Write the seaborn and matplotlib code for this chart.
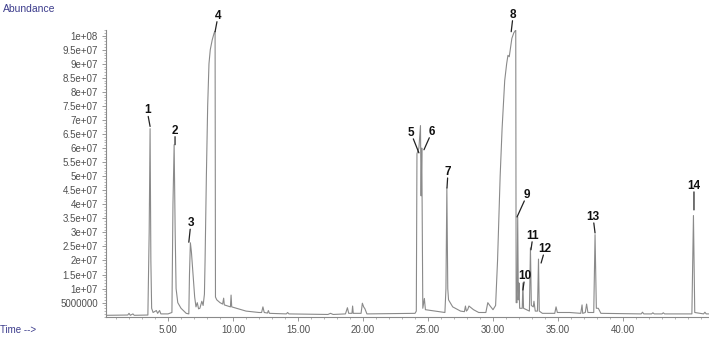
import numpy as np
import pandas as pd
import seaborn as sns
import matplotlib.pyplot as plt
from matplotlib.ticker import MultipleLocator

# chromatogram trace: retention time (min), abundance (x1e7)
time_min = [
    0.3, 1.9, 2.0, 2.1, 2.3, 2.4, 3.45, 3.55, 3.62, 3.68, 3.74, 3.85, 4.1, 4.2, 4.35, 4.45,
    5.0, 5.3, 5.38, 5.47, 5.55, 5.62, 5.75, 6.0, 6.4, 6.6, 6.65, 6.72, 6.8, 6.92, 7.05,
    7.15, 7.25, 7.35, 7.45, 7.6, 7.7, 7.8, 7.85, 7.95, 8.05, 8.15, 8.25, 8.4, 8.55, 8.62,
    8.65, 8.75, 9.0, 9.2, 9.28, 9.33, 9.8, 9.85, 9.9, 10.5, 11.0, 12.0, 12.2, 12.3, 12.4,
    12.65, 12.72, 12.8, 14.1, 14.2, 14.3, 17.3, 17.5, 17.7, 18.65, 18.8, 18.9, 19.15, 19.2,
    19.25, 19.85, 19.95, 20.05, 20.15, 20.3, 24.0, 24.1, 24.15, 24.3, 24.42, 24.47, 24.52,
    24.6, 24.72, 24.8, 26.3, 26.38, 26.45, 26.52, 26.58, 26.9, 27.5, 27.8, 27.88, 27.95,
    28.05, 28.15, 28.5, 28.9, 29.45, 29.6, 29.75, 30.0, 30.2, 30.35, 30.55, 30.7, 30.9,
    31.05, 31.15, 31.25, 31.45, 31.6, 31.75, 31.78, 31.85, 31.9, 31.95, 32.0, 32.05, 32.25,
    32.3, 32.35, 32.8, 32.88, 32.95, 33.1, 33.15, 33.25, 33.42, 33.5, 33.56, 33.8, 34.75,
    34.85, 34.95, 35.9, 36.75, 36.85, 36.9, 37.1, 37.2, 37.3, 37.75, 37.85, 37.95, 38.1,
    38.3, 41.4, 41.5, 41.6, 42.2, 42.3, 42.4, 43.0, 43.1, 43.2, 45.3, 45.42, 45.52, 46.2,
    46.3, 46.4, 46.6,
]
abund_e7 = [
    0.05, 0.06, 0.12, 0.05, 0.10, 0.05, 0.06, 3.0, 6.69, 2.0, 0.3, 0.15, 0.22, 0.12, 0.22, 0.1,
    0.1, 0.15, 4.0, 6.12, 3.0, 1.0, 0.5, 0.3, 0.12, 0.1, 1.5, 2.63, 2.3, 1.55, 0.7,
    0.35, 0.5, 0.28, 0.3, 0.55, 0.4, 0.8, 2.0, 5.0, 7.5, 9.0, 9.5, 9.85, 10.1, 10.15,
    0.7, 0.6, 0.5, 0.45, 0.66, 0.42, 0.35, 0.77, 0.35, 0.27, 0.2, 0.15, 0.15, 0.35, 0.15,
    0.13, 0.22, 0.12, 0.1, 0.15, 0.1, 0.08, 0.12, 0.08, 0.1, 0.32, 0.12, 0.12, 0.38,
    0.12, 0.12, 0.48, 0.35, 0.28, 0.1, 0.12, 0.2, 5.8, 6.0, 6.8, 4.3, 6.0,
    0.3, 0.65, 0.25, 0.15, 1.0, 4.58, 1.0, 0.6, 0.35, 0.2, 0.18, 0.38, 0.2,
    0.25, 0.38, 0.25, 0.15, 0.15, 0.5, 0.4, 0.25, 0.4, 2.0, 5.0, 6.7, 8.4,
    9.0, 9.3, 9.25, 9.9, 10.1, 10.2, 0.5, 0.5, 3.55, 0.6, 1.2, 0.3, 0.3,
    1.2, 0.3, 0.2, 2.45, 0.4, 0.35, 0.55, 0.2, 0.2, 2.05, 0.2, 0.12, 0.12,
    0.35, 0.15, 0.15, 0.12, 0.42, 0.12, 0.15, 0.45, 0.15, 0.15, 2.92, 0.3, 0.3,
    0.12, 0.1, 0.16, 0.1, 0.1, 0.14, 0.1, 0.1, 0.14, 0.1, 0.1, 3.6, 0.15, 0.1,
    0.16, 0.1, 0.1,
]

# numbered peaks: label, time and abundance (x1e7) where the leader line ends
peak_labels = ["1", "2", "3", "4", "5", "6", "7", "8", "9", "10", "11", "12", "13", "14"]
peak_time = [3.62, 5.54, 6.6, 8.62, 24.3, 24.69, 26.46, 31.4, 31.85, 32.3, 32.92, 33.7, 37.85, 45.46]
peak_abund_e7 = [6.77, 6.12, 2.65, 10.14, 5.83, 5.94, 4.58, 10.14, 3.55, 0.95, 2.38, 1.91, 2.98, 3.8]

y_tick_values = [5e6 * k for k in range(1, 21)]
y_tick_labels = ["5000000", "1e+07", "1.5e+07", "2e+07", "2.5e+07", "3e+07", "3.5e+07",
                 "4e+07", "4.5e+07", "5e+07", "5.5e+07", "6e+07", "6.5e+07", "7e+07",
                 "7.5e+07", "8e+07", "8.5e+07", "9e+07", "9.5e+07", "1e+08"]
x_tick_values = [5, 10, 15, 20, 25, 30, 35, 40]
x_tick_labels = ["5.00", "10.00", "15.00", "20.00", "25.00", "30.00", "35.00", "40.00"]

# label text offsets in pixels from the leader end
label_offsets = [(-3, 16), (0, 14), (2, 19), (3, 16), (-8, 20), (8, 18), (1, 16),
                 (2, 17), (10, 22), (2, 14), (2, 14), (4, 14), (-2, 16), (0, 24)]

df = pd.DataFrame({"time": time_min, "abundance": np.array(abund_e7) * 1e7})

sns.set_style("white")
plt.rcParams["font.family"] = ["Liberation Sans", "DejaVu Sans"]

fig = plt.figure(figsize=(7.09, 3.37), dpi=100)
ax = fig.add_axes([0.1499, 0.0602, 0.8498, 0.8507])

sns.lineplot(data=df, x="time", y="abundance", ax=ax, color="#8a8a8a",
             linewidth=0.8, estimator=None, sort=False)

ax.set_xlim(0.25, 46.6)
ax.set_ylim(0, 1.02e8)
ax.set_xlabel("")
ax.set_ylabel("")

for side in ["top", "right"]:
    ax.spines[side].set_visible(False)
for side in ["left", "bottom"]:
    ax.spines[side].set_color("#8a8a8a")
    ax.spines[side].set_linewidth(0.8)

ax.set_yticks(y_tick_values)
ax.set_yticklabels(y_tick_labels)
ax.set_xticks(x_tick_values)
ax.set_xticklabels(x_tick_labels)
ax.yaxis.set_minor_locator(MultipleLocator(1e6))
ax.xaxis.set_minor_locator(MultipleLocator(1))
ax.tick_params(axis="both", which="major", direction="out", length=3, width=0.6,
               color="#8a8a8a", labelsize=7, labelcolor="#505050", pad=3)
ax.tick_params(axis="both", which="minor", direction="out", length=1.5, width=0.5,
               color="#9a9a9a")
ax.tick_params(left=True, bottom=True, which="both")

for lab, t, a, (dx, dy) in zip(peak_labels, peak_time, peak_abund_e7, label_offsets):
    ax.annotate(lab, xy=(t, a * 1e7), xytext=(dx, dy), textcoords="offset pixels",
                ha="center", va="center", fontsize=8.5, fontweight="bold", color="#111111",
                bbox=dict(boxstyle="square,pad=0", fc="none", ec="none"),
                arrowprops=dict(arrowstyle="-", color="#222222", lw=0.9,
                                shrinkA=0, shrinkB=0))

fig.text(0.004, 0.988, "Abundance", ha="left", va="top", fontsize=7.5, color="#3c3c8c")
fig.text(0.0, 0.005, "Time -->", ha="left", va="bottom", fontsize=7, color="#3c3c8c")

fig.savefig("out.png", dpi=100)
